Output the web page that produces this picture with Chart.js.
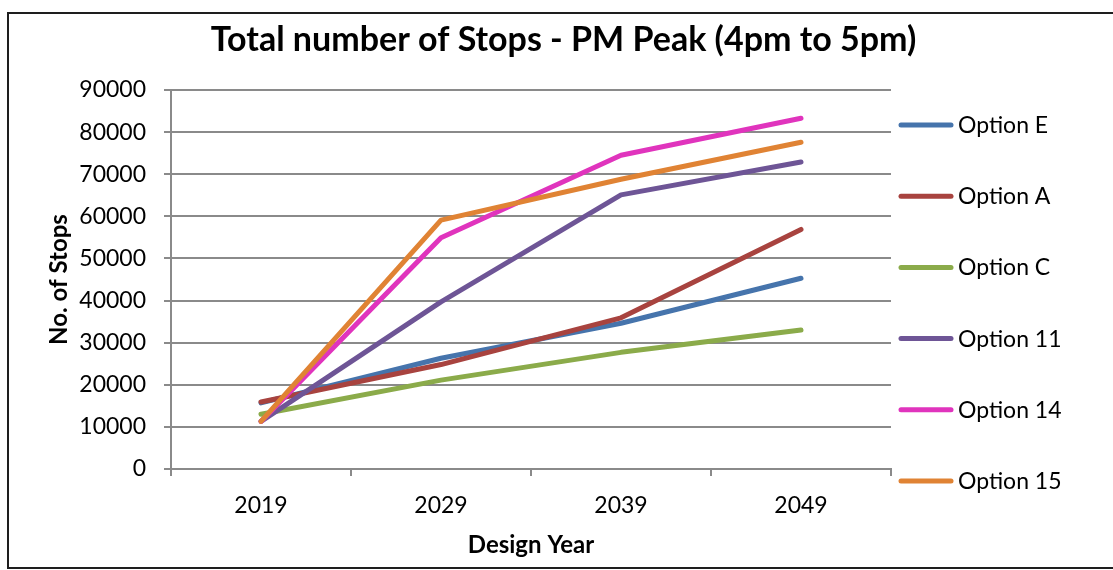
<!DOCTYPE html>
<html>
<head>
<meta charset="utf-8">
<title>Total number of Stops - PM Peak</title>
<script src="https://cdn.jsdelivr.net/npm/chart.js@4/dist/chart.umd.min.js"></script>
<style>
  html, body { margin: 0; padding: 0; background: #ffffff; overflow: hidden; }
  #frame {
    position: absolute; left: 7px; top: 12px; width: 1120px; height: 553px;
    border: 2px solid #1e1e1e; box-sizing: content-box;
  }
  #wrap { position: absolute; left: 0; top: 0; width: 1113px; height: 570px; }
</style>
</head>
<body>
<div id="frame"></div>
<div id="wrap"><canvas id="chart" width="1113" height="570"></canvas></div>
<script>
// Design years on the category axis
const years = ['2019', '2029', '2039', '2049'];

// Total number of stops in the PM peak hour, per option
const optionE  = [15700, 26300, 34600, 45300];
const optionA  = [15900, 24800, 35900, 56900];
const optionC  = [13000, 21100, 27700, 33000];
const option11 = [11300, 39700, 65100, 72900];
const option14 = [11300, 54900, 74500, 83300];
const option15 = [11300, 59100, 68800, 77600];

const seriesNames = ['Option E', 'Option A', 'Option C', 'Option 11', 'Option 14', 'Option 15'];
const seriesValues = [optionE, optionA, optionC, option11, option14, option15];
const seriesColours = ['#4674ac', '#a8433f', '#8bab4a', '#6e5596', '#e034bd', '#e08334'];

// Value axis ticks
const yMin = 0;
const yMax = 90000;
const yStep = 10000;

const FONT = 'Lato, "Open Sans", sans-serif';
const GRID = '#8a8a8a';

// Legend drawn as a vertical column to the right of the plot
const sideLegend = {
  id: 'sideLegend',
  afterDraw(chart) {
    const ctx = chart.ctx;
    const area = chart.chartArea;
    ctx.save();
    chart.data.datasets.forEach((ds, i) => {
      const y = area.top + 35 + i * 71.2;
      const x0 = area.right + 8;
      ctx.strokeStyle = ds.borderColor;
      ctx.lineWidth = 5;
      ctx.lineCap = 'round';
      ctx.beginPath();
      ctx.moveTo(x0 + 2, y);
      ctx.lineTo(x0 + 52, y);
      ctx.stroke();
      ctx.fillStyle = '#000000';
      ctx.font = '23px ' + FONT;
      ctx.textBaseline = 'alphabetic';
      ctx.textAlign = 'left';
      ctx.fillText(ds.label, x0 + 59, y + 8);
    });
    ctx.restore();
  }
};

const datasets = seriesNames.map((name, i) => ({
  label: name,
  data: seriesValues[i],
  borderColor: seriesColours[i],
  backgroundColor: seriesColours[i],
  borderWidth: 5,
  borderCapStyle: 'round',
  borderJoinStyle: 'round',
  pointRadius: 0,
  pointHoverRadius: 0,
  tension: 0,
  fill: false,
  order: seriesNames.length - i
}));

new Chart(document.getElementById('chart'), {
  type: 'line',
  data: { labels: years, datasets: datasets },
  plugins: [sideLegend],
  options: {
    responsive: false,
    animation: false,
    events: [],
    layout: { padding: { left: 14, right: 0, top: 0, bottom: 0 } },
    plugins: {
      legend: { display: false },
      tooltip: { enabled: false },
      title: {
        display: true,
        text: 'Total number of Stops - PM Peak (4pm to 5pm)',
        color: '#000000',
        font: { family: FONT, size: 34, weight: 'bold', lineHeight: 1.2 },
        padding: { top: 19.6, bottom: 29.6 }
      }
    },
    scales: {
      x: {
        offset: true,
        grid: {
          display: true,
          offset: true,
          drawOnChartArea: false,
          drawTicks: true,
          tickLength: 7,
          color: GRID,
          lineWidth: 2
        },
        border: { display: true, color: GRID, width: 2 },
        ticks: {
          color: '#000000',
          font: { family: FONT, size: 23 },
          padding: 16,
          maxRotation: 0
        },
        title: {
          display: true,
          text: 'Design Year',
          color: '#000000',
          font: { family: FONT, size: 24, weight: 'bold', lineHeight: 1.2 },
          padding: { top: 0, bottom: 10.6 }
        },
        afterFit(scale) { scale.height = 101; }
      },
      y: {
        min: yMin,
        max: yMax,
        grid: {
          display: true,
          drawTicks: true,
          tickLength: 7,
          color: GRID,
          lineWidth: 2
        },
        border: { display: true, color: GRID, width: 2 },
        ticks: {
          stepSize: yStep,
          color: '#000000',
          font: { family: FONT, size: 23 },
          padding: 18,
          callback: (v) => String(v)
        },
        title: {
          display: true,
          text: 'No. of Stops',
          color: '#000000',
          font: { family: FONT, size: 24, weight: 'bold', lineHeight: 1.2 },
          padding: { top: 30.6, bottom: 0 }
        },
        afterFit(scale) { scale.width = 157; }
      },
      // empty right-hand axis that reserves the strip where the legend is drawn
      legendSpace: {
        type: 'linear',
        position: 'right',
        display: true,
        grid: { display: false, drawTicks: false },
        border: { display: false },
        ticks: { display: false },
        afterFit(scale) { scale.width = 222; }
      }
    }
  }
});
</script>
</body>
</html>
